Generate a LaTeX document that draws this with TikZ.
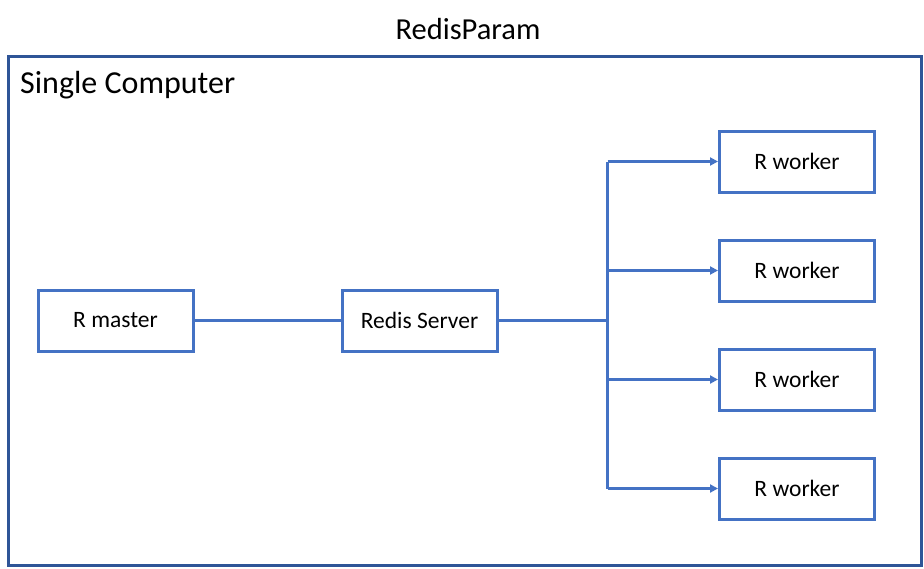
\documentclass[tikz,border=0pt]{standalone}
\usepackage{fontspec}
\setmainfont{Carlito}
\usetikzlibrary{arrows.meta}
\definecolor{boxblue}{HTML}{4472C4}
\definecolor{outerblue}{HTML}{2F5597}
\tikzset{
  procbox/.style={draw=boxblue, line width=3pt, minimum width=155pt, minimum height=61pt, inner sep=0pt, font=\fontsize{23.5}{28}\selectfont, text=black, fill=white},
  conn/.style={draw=boxblue, line width=2.2pt},
  arr/.style={conn, -{Triangle[length=8pt, width=8pt]}}
}
\begin{document}
\begin{tikzpicture}[x=1pt, y=-1pt]
\useasboundingbox (0,0) rectangle (924,568);
\node[draw=outerblue, line width=3.2pt, minimum width=913pt, minimum height=509pt, inner sep=0pt] (outer) at (465.25,311.25) {};
\node[font=\fontsize{30.5}{36}\selectfont] (title) at (468,29) {RedisParam};
\node[font=\fontsize{32}{38}\selectfont, anchor=base west, inner sep=0pt] (single) at (20,93) {Single Computer};
\node[procbox] (master) at (115.5,320.5) {R master};
\node[procbox] (redis) at (419.5,320.5) {Redis Server};
\node[procbox] (w1) at (797,161.5) {R worker};
\node[procbox] (w2) at (797,270.5) {R worker};
\node[procbox] (w3) at (797,379.5) {R worker};
\node[procbox] (w4) at (797,488.5) {R worker};
\coordinate (bus) at (607.5,320.5);
\coordinate (bt) at (607.5,161.5);
\coordinate (bb) at (607.5,488.5);
\draw[conn] (master) -- (redis);
\draw[conn] (redis) -- (bus);
\draw[conn] (bt) -- (bb);
\draw[arr] (bt) -- (w1.west);
\draw[arr] (bt |- w2.west) -- (w2.west);
\draw[arr] (bt |- w3.west) -- (w3.west);
\draw[arr] (bb) -- (w4.west);
\end{tikzpicture}
\end{document}
